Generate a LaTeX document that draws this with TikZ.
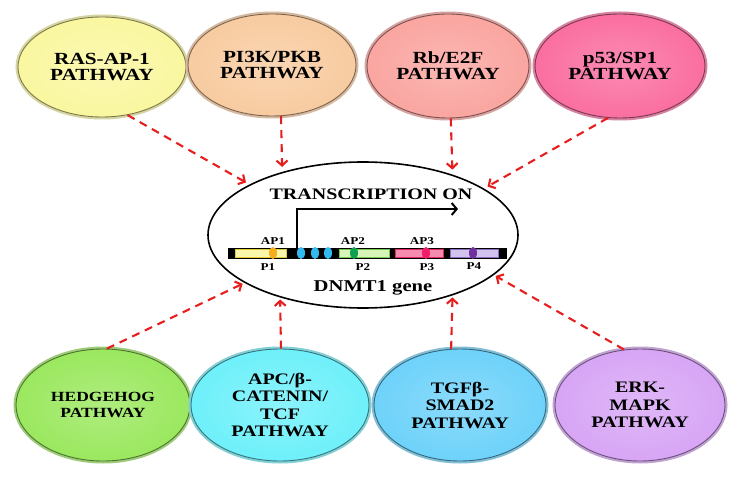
\documentclass[tikz,border=0pt]{standalone}
\usepackage{fontspec}
\setmainfont{Liberation Serif}[FakeStretch=1.25]
\usetikzlibrary{shapes.geometric,arrows.meta}
\definecolor{rasc}{RGB}{250,247,160}
\definecolor{pic}{RGB}{248,203,160}
\definecolor{rbc}{RGB}{250,165,160}
\definecolor{psc}{RGB}{250,110,160}
\definecolor{hhc}{RGB}{155,232,95}
\definecolor{apcc}{RGB}{110,240,250}
\definecolor{tgfc}{RGB}{110,210,250}
\definecolor{erkc}{RGB}{215,165,245}
\definecolor{redd}{RGB}{230,30,30}
\definecolor{yb}{RGB}{251,247,170}
\definecolor{ybd}{RGB}{225,205,60}
\definecolor{gb}{RGB}{215,245,185}
\definecolor{gbd}{RGB}{120,200,80}
\definecolor{pb}{RGB}{245,140,175}
\definecolor{pbd}{RGB}{225,40,100}
\definecolor{lb}{RGB}{210,195,238}
\definecolor{lbd}{RGB}{140,110,190}
\definecolor{ovo}{RGB}{245,175,30}
\definecolor{ovb}{RGB}{50,185,240}
\definecolor{ovg}{RGB}{15,160,80}
\definecolor{ovp}{RGB}{240,30,105}
\definecolor{ovv}{RGB}{112,48,160}
\tikzset{
  pw/.style={ellipse, inner sep=0pt, align=center, line width=0.9pt},
  tint/.style={draw=#1!50!black, inner color=#1!80!white, outer color=#1,
    preaction={draw=#1!80!black!75!white, line width=5pt}},
  ftop/.style={font=\bfseries\fontsize{17}{16}\selectfont},
  fbot/.style={font=\bfseries\fontsize{16}{17.5}\selectfont},
  fhh/.style={font=\bfseries\fontsize{14}{15.5}\selectfont},
  dar/.style={draw=redd, line width=2.1pt, dash pattern=on 8pt off 6pt,
    -{Straight Barb[length=5pt,width=11pt]}},
  glabel/.style={font=\bfseries\fontsize{10.5}{11}\selectfont, inner sep=0pt},
  oval/.style={ellipse, minimum width=8pt, minimum height=12pt, inner sep=0pt},
}
\begin{document}
\begin{tikzpicture}[x=1pt,y=-1pt]
\useasboundingbox (0,0) rectangle (738,478);
\fill[white] (0,0) rectangle (738,478);

% central ellipse
\node[ellipse, draw, line width=1.6pt, fill=white, minimum width=310pt, minimum height=146pt, inner sep=0pt] (dn) at (363,235) {};

% pathway nodes, top
\node[pw, tint=rasc, ftop, minimum width=168pt, minimum height=100pt] (ras) at (102,67) {RAS-AP-1\\PATHWAY};
\node[pw, tint=pic, ftop, minimum width=168pt, minimum height=102pt] (pi) at (272,65) {PI3K/PKB\\PATHWAY};
\node[pw, tint=rbc, ftop, minimum width=162pt, minimum height=104pt] (rb) at (448,66) {Rb/E2F\\PATHWAY};
\node[pw, tint=psc, ftop, minimum width=170pt, minimum height=104pt] (ps) at (620,66) {p53/SP1\\PATHWAY};

% pathway nodes, bottom
\node[pw, tint=hhc, fhh, minimum width=174pt, minimum height=112pt] (hh) at (103,405) {HEDGEHOG\\PATHWAY};
\node[pw, tint=apcc, fbot, minimum width=178pt, minimum height=112pt] (apc) at (280,405) {APC/β-\\CATENIN/\\TCF\\PATHWAY};
\node[pw, tint=tgfc, fbot, minimum width=172pt, minimum height=112pt] (tgf) at (460,405) {TGFβ-\\SMAD2\\PATHWAY};
\node[pw, tint=erkc, fbot, minimum width=170pt, minimum height=112pt] (erk) at (640,405) {ERK-\\MAPK\\PATHWAY};

% dashed arrows
\draw[dar, shorten >=4pt] (ras.-62) -- (dn.156.2);
\draw[dar, shorten >=5pt] (pi.-80.3) -- (dn.142.9);
\draw[dar, shorten >=5pt] (rb.-87.9) -- (dn.34.8);
\draw[dar, shorten >=4pt] (ps.-103) -- (dn.21.5);
\draw[dar, shorten >=2pt] (hh.86) -- (dn.202.6);
\draw[dar, shorten >=2pt] (apc.89) -- (dn.217.1);
\draw[dar, shorten >=2pt] (tgf.99.8) -- (dn.-34.8);
\draw[dar, shorten >=2pt] (erk.106.6) -- (dn.-17);

% gene bar
\fill[black] (228,247.5) rectangle (507,258.5);
\filldraw[fill=yb, draw=ybd, line width=0.6pt] (235,249) rectangle (286,257);
\filldraw[fill=gb, draw=gbd, line width=0.6pt] (339,249) rectangle (389,257);
\filldraw[fill=pb, draw=pbd, line width=0.6pt] (395,249) rectangle (443,257);
\filldraw[fill=lb, draw=lbd, line width=0.6pt] (450,249) rectangle (498,257);
\node[oval, fill=ovo] (o1) at (273,253) {};
\node[oval, fill=ovb] (b1) at (301,253) {};
\node[oval, fill=ovb] (b2) at (315,253) {};
\node[oval, fill=ovb] (b3) at (328,253) {};
\node[oval, fill=ovg] (o2) at (354,253) {};
\node[oval, fill=ovp] (o3) at (426,253) {};
\node[oval, fill=ovv] (o4) at (473,253) {};

% labels
\node[glabel] (ap1) at (273,241) {AP1};
\node[glabel] (ap2) at (353,241) {AP2};
\node[glabel] (ap3) at (422,241) {AP3};
\node[glabel] (p1) at (268,267.5) {P1};
\node[glabel] (p2) at (363,267.5) {P2};
\node[glabel] (p3) at (427,267.5) {P3};
\node[glabel] (p4) at (474,266.5) {P4};

% transcription arrow
\coordinate (tss) at (297,248);
\coordinate (tend) at (458,209);
\draw[line width=2pt, -{Straight Barb[length=5pt,width=12pt]}] (tss) |- (tend);
\node[font=\bfseries\fontsize{16}{16}\selectfont, inner sep=0pt] (tr) at (371,194) {TRANSCRIPTION ON};
\node[font=\bfseries\fontsize{16.5}{17}\selectfont, inner sep=0pt] (dg) at (373,288) {DNMT1 gene};
\end{tikzpicture}
\end{document}
